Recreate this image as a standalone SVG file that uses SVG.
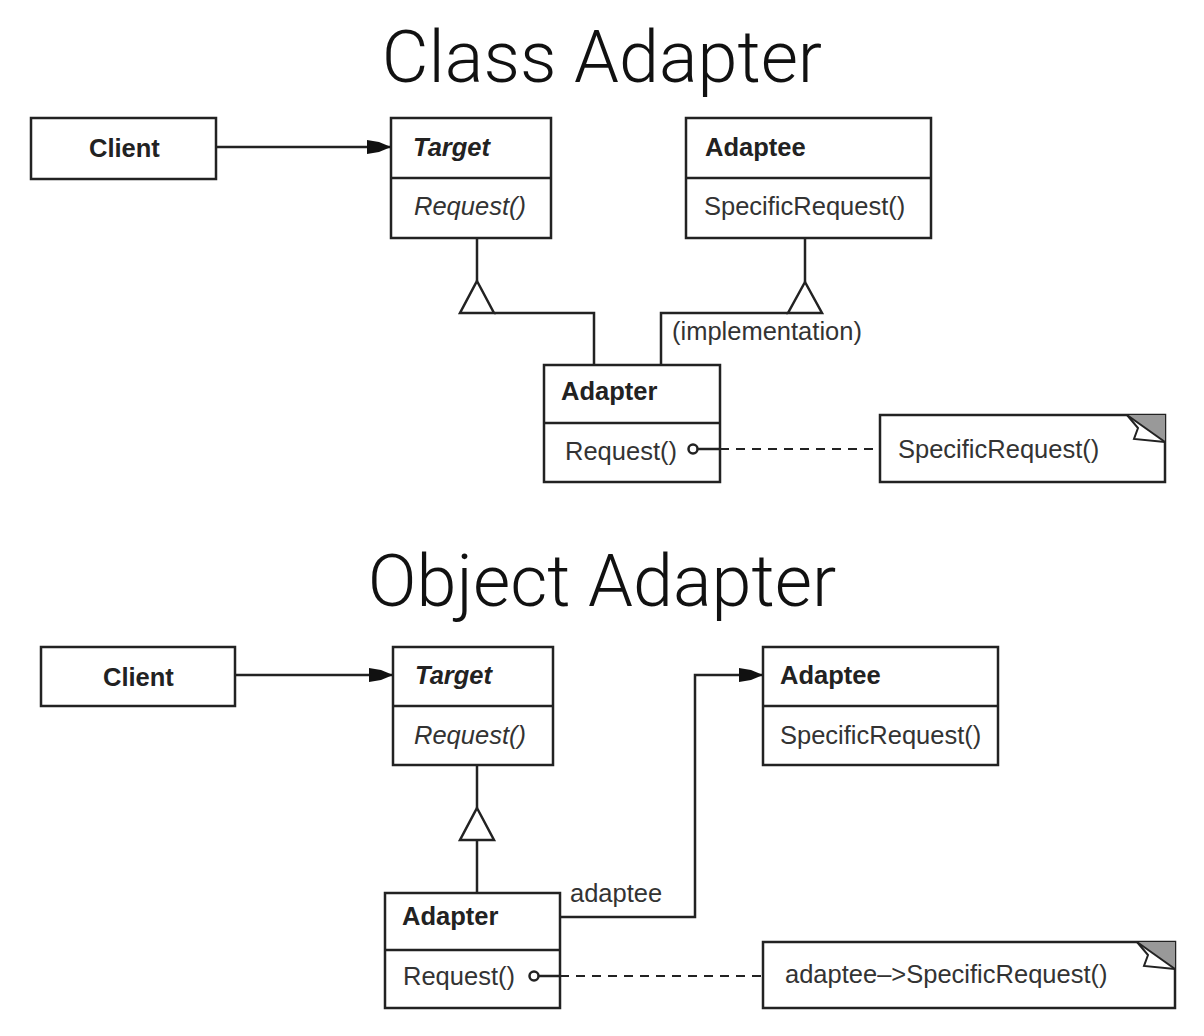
<svg xmlns="http://www.w3.org/2000/svg" width="1204" height="1036" viewBox="0 0 1204 1036">
<style>
.box{fill:#fff;stroke:#222;stroke-width:2.5}
.ln{fill:none;stroke:#222;stroke-width:2.5}
.dash{fill:none;stroke:#222;stroke-width:2;stroke-dasharray:9 7}
.t{font-family:"Liberation Sans",Arial,sans-serif;font-size:25.5px;fill:#333}
.b{font-weight:bold;fill:#222}
.i{font-style:italic}
.title{font-family:Roboto,"Liberation Sans",sans-serif;font-weight:300;font-size:72px;fill:#111}
.ah{fill:#111;stroke:none}
.fold{fill:#999;stroke:none}
</style>
<defs>
<marker id="arr" viewBox="0 0 24 18" refX="24" refY="9" markerWidth="24" markerHeight="18" markerUnits="userSpaceOnUse" orient="auto">
<path d="M0,2 L12,4 L24,9 L12,14 L0,16 Z" class="ah"/>
</marker>
</defs>
<text class="title" x="602" y="82" text-anchor="middle">Class Adapter</text>
<text class="title" x="602" y="606" text-anchor="middle">Object Adapter</text>

<g id="client1">
<rect class="box" x="31" y="118" width="185" height="61"/>
<text class="t b" x="89" y="157">Client</text>
</g>
<g id="target1">
<rect class="box" x="391" y="118" width="160" height="120"/>
<line class="ln" x1="391" y1="178" x2="551" y2="178"/>
<text class="t b i" x="413" y="156">Target</text>
<text class="t i" x="414" y="215">Request()</text>
</g>
<g id="adaptee1">
<rect class="box" x="686" y="118" width="245" height="120"/>
<line class="ln" x1="686" y1="178" x2="931" y2="178"/>
<text class="t b" x="705" y="156">Adaptee</text>
<text class="t" x="704" y="215">SpecificRequest()</text>
</g>
<g id="adapter1">
<rect class="box" x="544" y="365" width="176" height="117"/>
<line class="ln" x1="544" y1="423" x2="720" y2="423"/>
<text class="t b" x="561" y="400">Adapter</text>
<text class="t" x="565" y="460">Request()</text>
</g>
<g id="note1">
<rect class="box" x="880" y="415" width="285" height="67"/>
<polygon class="fold" points="1127,415 1165,415 1165,442"/>
<polyline class="ln" style="stroke-width:2" points="1127,415 1138,428 1134,439 1165,442"/>
<line class="ln" style="stroke-width:2" x1="1127" y1="415" x2="1165" y2="442"/>
<text class="t" x="898" y="458">SpecificRequest()</text>
</g>

<g id="client2">
<rect class="box" x="41" y="647" width="194" height="59"/>
<text class="t b" x="103" y="686">Client</text>
</g>
<g id="target2">
<rect class="box" x="393" y="647" width="160" height="118"/>
<line class="ln" x1="393" y1="706" x2="553" y2="706"/>
<text class="t b i" x="415" y="684">Target</text>
<text class="t i" x="414" y="744">Request()</text>
</g>
<g id="adaptee2">
<rect class="box" x="763" y="647" width="235" height="118"/>
<line class="ln" x1="763" y1="706" x2="998" y2="706"/>
<text class="t b" x="780" y="684">Adaptee</text>
<text class="t" x="780" y="744">SpecificRequest()</text>
</g>
<g id="adapter2">
<rect class="box" x="385" y="893" width="175" height="115"/>
<line class="ln" x1="385" y1="950" x2="560" y2="950"/>
<text class="t b" x="402" y="925">Adapter</text>
<text class="t" x="403" y="985">Request()</text>
</g>
<g id="note2">
<rect class="box" x="763" y="942" width="412" height="66"/>
<polygon class="fold" points="1137,942 1175,942 1175,969"/>
<polyline class="ln" style="stroke-width:2" points="1137,942 1148,955 1144,966 1175,969"/>
<line class="ln" style="stroke-width:2" x1="1137" y1="942" x2="1175" y2="969"/>
<text class="t" x="785" y="983">adaptee–&gt;SpecificRequest()</text>
</g>

<g id="connectors">
<line class="ln" x1="216" y1="147" x2="391" y2="147" marker-end="url(#arr)"/>
<polyline class="ln" points="477,238 477,281"/>
<polygon class="ln" points="477,281 494,313 460,313" style="fill:#fff"/>
<polyline class="ln" points="494,313 594,313 594,365"/>
<polyline class="ln" points="805,238 805,282"/>
<polygon class="ln" points="805,282 822,313 788,313" style="fill:#fff"/>
<polyline class="ln" points="788,313 661,313 661,365"/>
<text class="t" x="672" y="340">(implementation)</text>
<circle class="ln" cx="693" cy="449" r="4.5" style="fill:#fff"/>
<line class="ln" x1="697.5" y1="449" x2="720" y2="449"/>
<line class="dash" x1="720" y1="449" x2="879" y2="449"/>

<line class="ln" x1="235" y1="675" x2="393" y2="675" marker-end="url(#arr)"/>
<polyline class="ln" points="477,765 477,808"/>
<polygon class="ln" points="477,808 494,840 460,840" style="fill:#fff"/>
<polyline class="ln" points="477,840 477,893"/>
<polyline class="ln" points="560,917 695,917 695,675 763,675" marker-end="url(#arr)"/>
<text class="t" x="570" y="902">adaptee</text>
<circle class="ln" cx="534" cy="976" r="4.5" style="fill:#fff"/>
<line class="ln" x1="538.5" y1="976" x2="560" y2="976"/>
<line class="dash" x1="560" y1="976" x2="763" y2="976"/>
</g>
</svg>
